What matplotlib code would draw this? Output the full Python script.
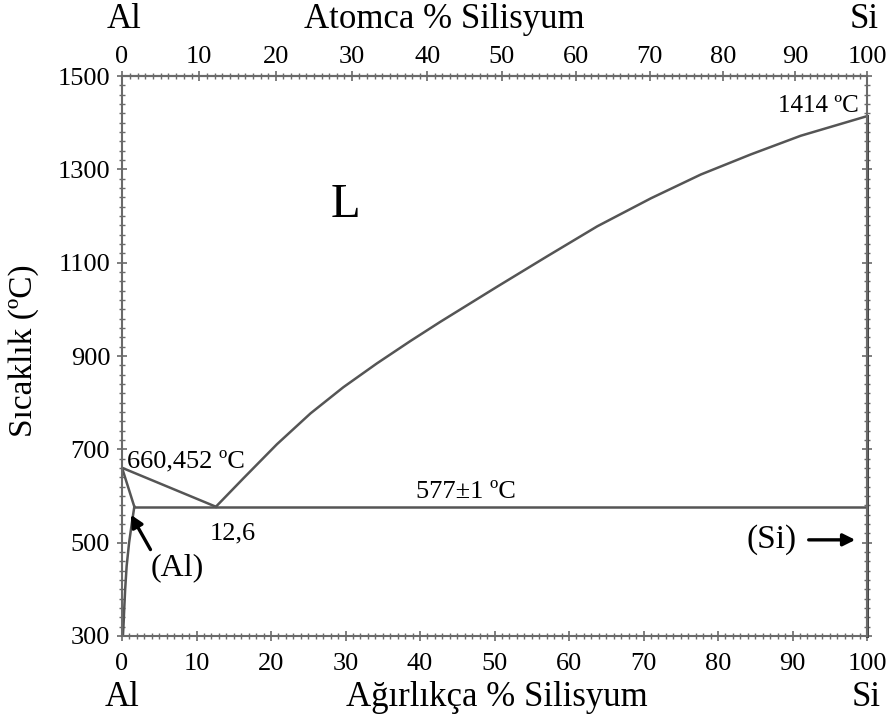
import numpy as np
import matplotlib
matplotlib.use("Agg")
import matplotlib.pyplot as plt
from matplotlib.ticker import MultipleLocator, FixedLocator

plt.rcParams['font.family'] = ['Liberation Serif', 'DejaVu Serif']

# --- Data (wt% Si, temperature degC) ---
liq_al_wt = [0.0, 12.6]
liq_al_T = [660.452, 577]

liq_si_wt = [12.6, 16.3, 20.8, 25.3, 29.7, 34.2, 38.7, 42.7, 50.4, 57.1, 63.8, 71.0, 77.7, 84.4, 91.1, 100.0]
liq_si_T = [577, 638, 711, 777, 833, 884, 932, 973, 1049, 1114, 1178, 1238, 1289, 1332, 1372, 1414]

solidus_wt = [0.0, 1.65]
solidus_T = [660.452, 577]

solvus_wt = [1.65, 1.3, 0.95, 0.62, 0.42, 0.3, 0.22, 0.12]
solvus_T = [577, 540, 500, 450, 400, 360, 330, 300]

eutectic_wt = [1.65, 100.0]
eutectic_T = [577, 577]

si_wt = [100.0, 100.0]
si_T = [300, 1414]

at_ticks = [0, 10, 20, 30, 40, 50, 60, 70, 80, 90, 100]
wt_ticks = [0, 10, 20, 30, 40, 50, 60, 70, 80, 90, 100]
T_ticks = [300, 500, 700, 900, 1100, 1300, 1500]

M_AL, M_SI = 26.982, 28.086

def at2wt(a):
    a = np.asarray(a, dtype=float)
    return 100.0 * a * M_SI / (a * M_SI + (100.0 - a) * M_AL)

def wt2at(w):
    w = np.asarray(w, dtype=float)
    return 100.0 * (w / M_SI) / (w / M_SI + (100.0 - w) / M_AL)

line_c = '#555555'
spine_c = '#6a6a6a'

fig = plt.figure(figsize=(8.94, 7.2), dpi=100)
ax = fig.add_axes([0.1365, 0.1167, 0.8333, 0.7777])

lw = 1.8
ax.plot(liq_al_wt, liq_al_T, color=line_c, lw=lw)
ax.plot(liq_si_wt, liq_si_T, color=line_c, lw=lw, solid_joinstyle='round')
ax.plot(solidus_wt, solidus_T, color=line_c, lw=lw)
ax.plot(solvus_wt, solvus_T, color=line_c, lw=lw, solid_joinstyle='round')
ax.plot(eutectic_wt, eutectic_T, color=line_c, lw=lw)
ax.plot(si_wt, si_T, color='#444444', lw=2.2, clip_on=False)

ax.set_xlim(0, 100)
ax.set_ylim(300, 1500)

for s in ax.spines.values():
    s.set_color(spine_c)
    s.set_linewidth(1.5)

ax.xaxis.set_major_locator(FixedLocator(wt_ticks))
ax.xaxis.set_minor_locator(MultipleLocator(1))
ax.yaxis.set_major_locator(FixedLocator(T_ticks))
ax.yaxis.set_minor_locator(MultipleLocator(20))
ax.tick_params(axis='both', which='major', direction='inout', length=7, width=1.2,
               color=spine_c, labelsize=19)
ax.tick_params(axis='x', which='major', pad=9)
ax.tick_params(axis='y', which='major', pad=5)
ax.tick_params(axis='both', which='minor', direction='inout', length=4, width=1.0,
               color=spine_c)
ax.tick_params(axis='y', which='both', right=True)
ax.tick_params(axis='x', which='both', top=False)

sec = ax.secondary_xaxis('top', functions=(wt2at, at2wt))
sec.xaxis.set_major_locator(FixedLocator(at_ticks))
sec.xaxis.set_minor_locator(MultipleLocator(1))
sec.tick_params(axis='x', which='major', direction='inout', length=7, width=1.2,
                color=spine_c, labelsize=19, pad=2)
sec.tick_params(axis='x', which='minor', direction='inout', length=4, width=1.0,
                color=spine_c)
sec.spines['top'].set_color(spine_c)
sec.spines['top'].set_linewidth(1.5)

ax.set_ylabel('Sıcaklık (ºC)', fontsize=24)
ax.yaxis.set_label_coords(-0.112, 0.51)

# Axis end labels and titles
fig.text(122 / 894, 1 - 697 / 720, 'Al', fontsize=25, ha='center', va='center')
fig.text(497 / 894, 1 - 697 / 720, 'Ağırlıkça % Silisyum', fontsize=25, ha='center', va='center')
fig.text(866 / 894, 1 - 697 / 720, 'Si', fontsize=25, ha='center', va='center')
fig.text(124 / 894, 1 - 20 / 720, 'Al', fontsize=25, ha='center', va='center')
fig.text(444 / 894, 1 - 20 / 720, 'Atomca % Silisyum', fontsize=25, ha='center', va='center')
fig.text(864 / 894, 1 - 20 / 720, 'Si', fontsize=25, ha='center', va='center')

# Annotations
ax.text(98.9, 1436, '1414 ºC', fontsize=18, ha='right', va='center')
ax.text(30.0, 1223, 'L', fontsize=35, ha='center', va='center')
ax.text(0.6, 673, '660,452 ºC', fontsize=19, ha='left', va='center')
ax.text(14.8, 520, '12,6', fontsize=19, ha='center', va='center')
ax.text(46.1, 608, '577±1 ºC', fontsize=19, ha='center', va='center')
ax.text(3.8, 446, '(Al)', fontsize=23, ha='left', va='center')
ax.annotate('', xy=(1.0, 565), xytext=(4.0, 480),
            arrowprops=dict(arrowstyle='-|>', color='black', lw=2.4, mutation_scale=18))
ax.text(90.5, 506, '(Si)', fontsize=24, ha='right', va='center')
ax.annotate('', xy=(98.8, 506), xytext=(91.8, 506),
            arrowprops=dict(arrowstyle='-|>', color='black', lw=2.4, mutation_scale=18))

fig.savefig('out.png', dpi=100)
